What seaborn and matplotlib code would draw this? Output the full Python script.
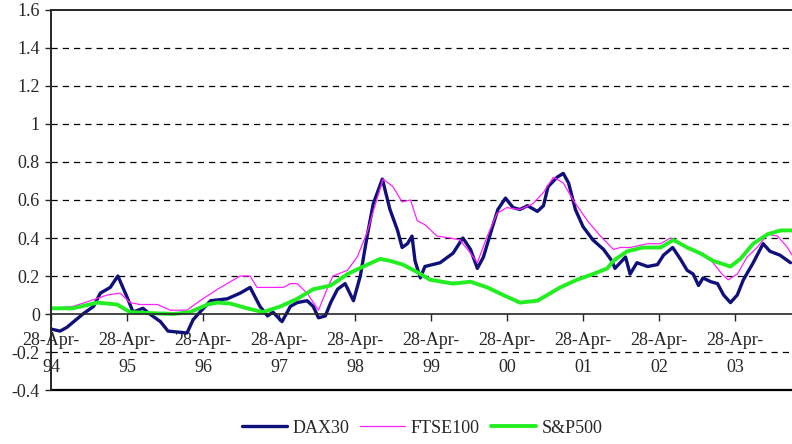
import pandas as pd
import numpy as np
import matplotlib
matplotlib.use("Agg")
import matplotlib.pyplot as plt
import seaborn as sns

# Values (time as decimal year)
dax_t = [1994.33, 1994.44, 1994.53, 1994.74, 1994.88, 1994.97, 1995.10, 1995.20, 1995.32, 1995.40,
         1995.53, 1995.62, 1995.76, 1995.86, 1996.11, 1996.19, 1996.28, 1996.42, 1996.64, 1996.81,
         1996.94, 1997.07, 1997.17, 1997.24, 1997.36, 1997.47, 1997.56, 1997.69, 1997.77, 1997.84,
         1997.93, 1998.00, 1998.09, 1998.19, 1998.30, 1998.39, 1998.48, 1998.56, 1998.68, 1998.78,
         1998.88, 1998.94, 1999.01, 1999.07, 1999.11, 1999.18, 1999.24, 1999.44, 1999.61, 1999.74,
         1999.84, 1999.93, 2000.01, 2000.13, 2000.20, 2000.30, 2000.40, 2000.49, 2000.59, 2000.72,
         2000.80, 2000.86, 2000.98, 2001.06, 2001.13, 2001.22, 2001.32, 2001.45, 2001.59, 2001.70,
         2001.74, 2001.81, 2001.88, 2001.94, 2002.03, 2002.17, 2002.30, 2002.38, 2002.50, 2002.60,
         2002.69, 2002.77, 2002.84, 2002.90, 2003.00, 2003.09, 2003.17, 2003.26, 2003.35, 2003.43,
         2003.56, 2003.69, 2003.78, 2003.91, 2004.05]
dax_v = [-0.08, -0.09, -0.07, 0.00, 0.04, 0.11, 0.14, 0.20, 0.09, 0.01,
         0.03, 0.00, -0.04, -0.09, -0.10, -0.03, 0.01, 0.07, 0.08, 0.11,
         0.14, 0.04, -0.01, 0.01, -0.04, 0.04, 0.06, 0.07, 0.04, -0.02,
         -0.01, 0.06, 0.13, 0.16, 0.07, 0.20, 0.41, 0.58, 0.71, 0.55,
         0.44, 0.35, 0.37, 0.41, 0.28, 0.19, 0.25, 0.27, 0.32, 0.40,
         0.34, 0.24, 0.30, 0.46, 0.55, 0.61, 0.56, 0.55, 0.57, 0.54,
         0.57, 0.67, 0.72, 0.74, 0.69, 0.55, 0.46, 0.39, 0.34, 0.28,
         0.24, 0.27, 0.30, 0.21, 0.27, 0.25, 0.26, 0.31, 0.35, 0.29,
         0.23, 0.21, 0.15, 0.19, 0.17, 0.16, 0.10, 0.06, 0.10, 0.18,
         0.27, 0.37, 0.33, 0.31, 0.27]

ftse_t = [1994.34, 1994.61, 1994.84, 1995.06, 1995.23, 1995.36, 1995.49, 1995.72, 1995.89, 1996.11,
          1996.28, 1996.51, 1996.68, 1996.81, 1996.94, 1997.03, 1997.20, 1997.38, 1997.47, 1997.56,
          1997.69, 1997.84, 1997.95, 1998.03, 1998.22, 1998.35, 1998.48, 1998.59, 1998.69, 1998.82,
          1998.94, 1999.05, 1999.14, 1999.24, 1999.40, 1999.57, 1999.70, 1999.84, 1999.93, 2000.06,
          2000.19, 2000.32, 2000.49, 2000.66, 2000.80, 2000.93, 2001.06, 2001.19, 2001.38, 2001.55,
          2001.72, 2001.81, 2001.94, 2002.17, 2002.34, 2002.47, 2002.60, 2002.73, 2002.90, 2003.03,
          2003.15, 2003.23, 2003.35, 2003.48, 2003.61, 2003.75, 2003.88, 2004.01, 2004.07]
ftse_v = [0.03, 0.04, 0.07, 0.10, 0.11, 0.06, 0.05, 0.05, 0.02, 0.02,
          0.07, 0.13, 0.17, 0.20, 0.20, 0.14, 0.14, 0.14, 0.16, 0.16,
          0.11, 0.02, 0.13, 0.20, 0.23, 0.30, 0.43, 0.58, 0.71, 0.67,
          0.59, 0.60, 0.49, 0.47, 0.41, 0.40, 0.39, 0.32, 0.27, 0.41,
          0.53, 0.56, 0.55, 0.58, 0.64, 0.72, 0.69, 0.60, 0.49, 0.41,
          0.34, 0.35, 0.35, 0.37, 0.37, 0.40, 0.37, 0.34, 0.32, 0.27,
          0.21, 0.18, 0.21, 0.30, 0.35, 0.42, 0.41, 0.35, 0.31]

sp_t = [1994.34, 1994.61, 1994.93, 1995.19, 1995.36, 1995.62, 1995.93, 1996.15, 1996.38, 1996.51,
        1996.68, 1996.90, 1997.11, 1997.34, 1997.56, 1997.77, 1998.00, 1998.22, 1998.43, 1998.65,
        1998.78, 1998.95, 1999.14, 1999.31, 1999.61, 1999.84, 2000.06, 2000.27, 2000.49, 2000.72,
        2000.85, 2001.02, 2001.24, 2001.45, 2001.64, 2001.72, 2001.90, 2002.11, 2002.34, 2002.51,
        2002.69, 2002.86, 2003.03, 2003.26, 2003.39, 2003.56, 2003.75, 2003.92, 2004.07]
sp_v = [0.03, 0.03, 0.06, 0.05, 0.01, 0.005, 0.00, 0.01, 0.05, 0.06,
        0.055, 0.03, 0.01, 0.04, 0.08, 0.13, 0.15, 0.21, 0.25, 0.29,
        0.28, 0.26, 0.22, 0.18, 0.16, 0.17, 0.14, 0.10, 0.06, 0.07,
        0.10, 0.14, 0.18, 0.21, 0.24, 0.28, 0.33, 0.35, 0.35, 0.39,
        0.35, 0.32, 0.28, 0.25, 0.29, 0.37, 0.42, 0.44, 0.44]

tick_years = list(range(1994, 2004))
y_ticks = [-0.4, -0.2, 0, 0.2, 0.4, 0.6, 0.8, 1, 1.2, 1.4, 1.6]


def to_date(years):
    years = np.asarray(years)
    return pd.Timestamp("1994-01-01") + pd.to_timedelta((years - 1994) * 365.25, unit="D")


frames = []
for name, t, v in [("DAX30", dax_t, dax_v), ("FTSE100", ftse_t, ftse_v), ("S&P500", sp_t, sp_v)]:
    frames.append(pd.DataFrame({"date": to_date(t), "value": v, "index": name}))
df = pd.concat(frames, ignore_index=True)

sns.set_style("white")
plt.rcParams["font.family"] = ["Liberation Serif", "DejaVu Serif"]

fig = plt.figure(figsize=(7.92, 4.44), dpi=100)
ax = fig.add_axes([0.0644, 0.1216, 0.9356, 0.8559])

styles = {"DAX30": ("#10107a", 2.4), "FTSE100": ("#ff22ff", 0.9), "S&P500": ("#22ee22", 2.8)}
for name in ["DAX30", "FTSE100", "S&P500"]:
    color, lw = styles[name]
    sns.lineplot(data=df[df["index"] == name], x="date", y="value", ax=ax,
                 color=color, linewidth=lw, label=name, estimator=None, sort=False)

ax.set_ylim(-0.4, 1.6)
ax.set_xlim(to_date([1994.323])[0], to_date([2004.07])[0])
ax.set_yticks(y_ticks)
ax.set_yticklabels([f"{y:g}" for y in y_ticks], fontsize=13)

# dashed gridlines
for y in [-0.2, 0.2, 0.4, 0.6, 0.8, 1.0, 1.2, 1.4]:
    ax.axhline(y, color="black", linestyle=(0, (5, 4)), linewidth=0.9, zorder=0.5)
ax.axhline(-0.4, color="black", linewidth=1.6, clip_on=False)

# x axis crossing at zero
ax.spines["bottom"].set_position(("data", 0))
ax.spines["bottom"].set_linewidth(1.2)
ax.spines["left"].set_linewidth(1.4)
ax.spines["top"].set_linewidth(1.4)
ax.spines["right"].set_visible(False)
xt = [pd.Timestamp(f"{y}-04-28") for y in tick_years]
ax.set_xticks(xt)
ax.set_xticklabels([f"28-Apr-\n{y % 100:02d}" for y in tick_years], fontsize=13, linespacing=1.75)
ax.tick_params(axis="x", direction="out", length=5, width=1, pad=8, bottom=True)
ax.tick_params(axis="y", direction="out", length=4, width=1, pad=4, left=True)
ax.set_xlabel("")
ax.set_ylabel("")

ax.get_legend().remove()
handles, labels = ax.get_legend_handles_labels()
fig.legend(handles, labels, loc="lower center", bbox_to_anchor=(0.533, -0.02), ncol=3,
           frameon=False, fontsize=13, handlelength=2.5, handletextpad=0.3, columnspacing=0.6)

fig.savefig("out.png", dpi=100)
